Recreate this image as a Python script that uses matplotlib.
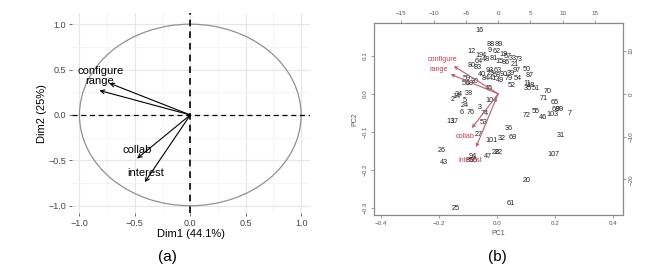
import numpy as np
import matplotlib.pyplot as plt
from matplotlib.patches import Ellipse

# ---- panel (a): correlation circle ----
var_names = ['configure', 'range', 'collab', 'interest']
dim1 = [-0.73, -0.82, -0.48, -0.41]
dim2 = [0.35, 0.27, -0.48, -0.74]
circle_ticks = [-1.0, -0.5, 0.0, 0.5, 1.0]

# ---- panel (b): biplot ----
obs_labels = ['16', '88', '89', '12', '1', '94', '9', '62', '19', '57', '33', '73',
              '64', '48', '81', '15', '86', '21', '80', '83', '93', '63', '97', '40',
              '23', '58', '90', '39', '54', '84', '41', '49', '79', '50', '87', '52',
              '45', '59', '30', '56', '60', '11', '18', '35', '51', '70', '71', '65',
              '68', '99', '7', '55', '72', '103', '46', '38', '34', '2', '14', '5',
              '24', '3', '104', '6', '76', '74', '13', '17', '53', '36', '27', '101',
              '32', '69', '31', '26', '22', '82', '47', '94', '85', '95', '107', '43',
              '20', '61', '25']
pc1 = [-0.058, -0.020, 0.008, -0.087, -0.068, -0.047, -0.023, 0.001, 0.022, 0.039, 0.056, 0.074,
       -0.061, -0.037, -0.009, 0.011, 0.032, 0.063, -0.085, -0.064, -0.026, 0.004, 0.067, -0.051,
       -0.020, 0.001, 0.025, 0.049, 0.074, -0.037, -0.013, 0.011, 0.042, 0.105, 0.112, 0.053,
       -0.027, -0.102, -0.075, -0.105, -0.092, 0.105, 0.115, 0.108, 0.136, 0.174, 0.161, 0.201,
       0.203, 0.218, 0.250, 0.136, 0.103, 0.192, 0.161, -0.097, -0.132, -0.153, -0.138, -0.110,
       -0.110, -0.060, -0.017, -0.121, -0.090, -0.041, -0.158, -0.145, -0.045, 0.040, -0.062, -0.017,
       0.017, 0.055, 0.222, -0.189, -0.004, 0.006, -0.032, -0.083, -0.093, -0.078, 0.195, -0.181,
       0.103, 0.049, -0.140]
pc2 = [0.166, 0.129, 0.129, 0.111, 0.102, 0.102, 0.115, 0.112, 0.104, 0.099, 0.094, 0.089,
       0.086, 0.089, 0.094, 0.086, 0.083, 0.076, 0.074, 0.068, 0.062, 0.060, 0.060, 0.052,
       0.054, 0.049, 0.052, 0.054, 0.041, 0.041, 0.039, 0.036, 0.041, 0.065, 0.047, 0.023,
       0.015, 0.041, 0.033, 0.026, 0.028, 0.026, 0.023, 0.015, 0.015, 0.007, -0.012, -0.023,
       -0.041, -0.042, -0.052, -0.047, -0.058, -0.055, -0.063, 0.001, -0.003, -0.015, -0.007, -0.019,
       -0.031, -0.035, -0.018, -0.050, -0.050, -0.053, -0.072, -0.072, -0.076, -0.091, -0.108, -0.122,
       -0.117, -0.114, -0.111, -0.150, -0.154, -0.154, -0.164, -0.165, -0.176, -0.176, -0.159, -0.181,
       -0.228, -0.290, -0.302]
load_pc1 = [-8.6, -9.2, -5.1, -4.3]
load_pc2 = [8.1, 5.7, -10.0, -15.6]

fig = plt.figure(figsize=(6.5, 2.69), dpi=100)
plt.rcParams['font.family'] = ['Liberation Sans', 'DejaVu Sans']

# ================= (a) =================
ax = fig.add_axes([0.1103, 0.2082, 0.3666, 0.7424])
ax.set_xlim(-1.07, 1.08)
ax.set_ylim(-1.08, 1.12)
for s in ax.spines.values():
    s.set_visible(False)
ax.set_xticks(circle_ticks)
ax.set_yticks(circle_ticks)
ax.set_xticks([-0.75, -0.25, 0.25, 0.75], minor=True)
ax.set_yticks([-0.75, -0.25, 0.25, 0.75], minor=True)
ax.grid(True, which='major', color='#e6e6e6', lw=0.8)
ax.grid(True, which='minor', color='#f2f2f2', lw=0.6)
ax.set_axisbelow(True)
ax.tick_params(which='major', length=2.5, width=0.6, color='#555555', labelsize=6.5,
               labelcolor='#444444', pad=1.5)
ax.tick_params(which='minor', length=0)

ax.add_patch(Ellipse((0, 0), 2, 2, fill=False, ec='#909090', lw=0.9))
ax.axhline(0, color='black', ls=(0, (4, 3)), lw=0.9)
ax.axvline(0, color='black', ls=(0, (4, 3)), lw=1.2)

lab_off = [(-0.08, 0.13), (0.0, 0.10), (0.0, 0.09), (0.01, 0.10)]
for name, x, y, (dx, dy) in zip(var_names, dim1, dim2, lab_off):
    ax.annotate('', xy=(x, y), xytext=(0, 0),
                arrowprops=dict(arrowstyle='->', color='black', lw=0.8,
                                shrinkA=0, shrinkB=0, mutation_scale=7))
    ax.text(x + dx, y + dy, name, ha='center', va='center', fontsize=8)

ax.set_xlabel('Dim1 (44.1%)', fontsize=8, labelpad=1)
ax.set_ylabel('Dim2 (25%)', fontsize=8, labelpad=1)
fig.text(0.258, 0.045, '(a)', ha='center', va='center', fontsize=11)

# ================= (b) =================
rect_b = [0.5758, 0.2007, 0.3822, 0.7149]
bx = fig.add_axes(rect_b)
bx.set_xlim(-0.422, 0.434)
bx.set_ylim(-0.319, 0.187)
for s in bx.spines.values():
    s.set_color('#8a8a8a')
    s.set_linewidth(0.9)
bx.set_xticks([-0.4, -0.2, 0.0, 0.2, 0.4])
bx.set_yticks([-0.3, -0.2, -0.1, 0.0, 0.1])
bx.tick_params(length=2.5, width=0.5, color='#777777', labelsize=4.5,
               labelcolor='#555555', pad=2)
plt.setp(bx.get_yticklabels(), rotation=90, va='center')
bx.set_xlabel('PC1', fontsize=5, color='#555555', labelpad=3)
bx.set_ylabel('PC2', fontsize=5, color='#555555', labelpad=3)

for lab, x, y in zip(obs_labels, pc1, pc2):
    bx.text(x, y, lab, ha='center', va='center', fontsize=5.2, color='#222222')

# secondary axes for loadings
sx = fig.add_axes(rect_b, frameon=False)
sx.patch.set_visible(False)
sx.set_xlim(-19.2, 19.3)
sx.set_ylim(-28.3, 16.6)
sx.xaxis.tick_top()
sx.yaxis.tick_right()
sx.set_xticks([-15, -10, -5, 0, 5, 10, 15])
sx.set_yticks([-20, -10, 0, 10])
sx.tick_params(length=2.5, width=0.5, color='#777777', labelsize=4.5,
               labelcolor='#555555', pad=2)
plt.setp(sx.get_yticklabels(), rotation=90, va='center')

for name, x, y in zip(var_names, load_pc1, load_pc2):
    sx.annotate('', xy=(0.8 * x, 0.8 * y), xytext=(0, 0),
                arrowprops=dict(arrowstyle='->', color='#b8606c', lw=0.8,
                                shrinkA=0, shrinkB=0, mutation_scale=5))
    sx.text(x, y, name, ha='center', va='center', fontsize=5.2, color='#c0404f')

fig.text(0.765, 0.045, '(b)', ha='center', va='center', fontsize=11)

fig.savefig('out.png', dpi=100)
